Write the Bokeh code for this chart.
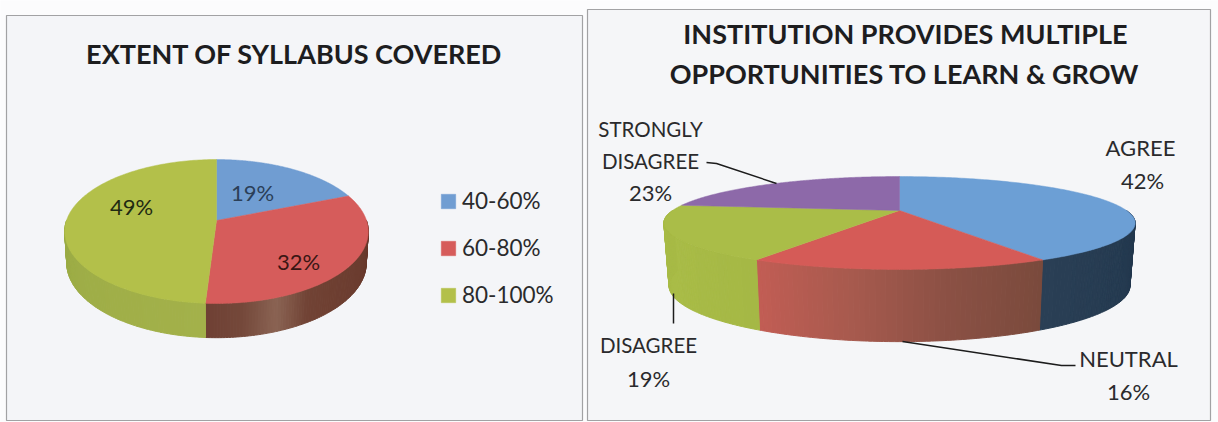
import numpy as np
from bokeh.plotting import figure
from bokeh.models import Range1d, Legend, LegendItem
from bokeh.core.properties import value
from bokeh.embed import file_html
from bokeh.resources import INLINE

# ---------- data ----------
syllabus_title = "EXTENT OF SYLLABUS COVERED"
syllabus_categories = ["40-60%", "60-80%", "80-100%"]
syllabus_values = [19, 32, 49]

growth_title = ["INSTITUTION PROVIDES MULTIPLE", "OPPORTUNITIES TO LEARN & GROW"]
growth_categories = ["AGREE", "NEUTRAL", "DISAGREE", "STRONGLY DISAGREE"]
growth_values = [42, 16, 19, 23]

# ---------- styles ----------
FONT = value("Lato")
INK = "#1d1d1f"
LEFT_TOP = ["#709dd2", "#d65c5b", "#b3c04a"]
RIGHT_TOP = ["#6c9fd5", "#d55b57", "#aabd48", "#8d69a9"]
LEFT_SIDE = [["#4a6d94", "#4a6d94"],
             ["#63352a", "#66372b", "#6a3b2e", "#6c3d30", "#6e3f31", "#714335", "#8a6353", "#74483a", "#6f4034"],
             ["#a3b14a", "#9fae47", "#9aab45"]]
RIGHT_SIDE = [["#21344a", "#243a50", "#2a3f55"],
              ["#7a4a3c", "#8a5044", "#a85a4e", "#c25d54"],
              ["#a5b845", "#a9bc47", "#a7ba46"],
              ["#6b4f82", "#6b4f82"]]


def hexmix(stops, t):
    arr = np.array([[int(c[i:i + 2], 16) for i in (1, 3, 5)] for c in stops], float)
    pos = t * (len(stops) - 1)
    i = min(int(pos), len(stops) - 2)
    rgb = arr[i] + (arr[i + 1] - arr[i]) * (pos - i)
    return "#%02x%02x%02x" % tuple(int(round(v)) for v in rgb)


def rim(theta, cx, y0, a, b, k):
    u, v = np.sin(theta), np.cos(theta)
    w = 1 + k * v
    return cx + b * u / w, y0 - a * v / w


def draw_pie(p, vals, tops, sides, cx, y0, a, b, k, y1, a1, b1):
    edges = np.radians(np.cumsum([0] + list(vals)) * 360.0 / sum(vals))
    front = (np.pi / 2, 3 * np.pi / 2)
    for i, (t0, t1) in enumerate(zip(edges[:-1], edges[1:])):
        s0, s1 = max(t0, front[0]), min(t1, front[1])
        if s1 <= s0:
            continue
        n = max(2, int(np.degrees(s1 - s0)))
        grid = np.linspace(s0, s1, n + 1)
        for j in range(n):
            th = np.linspace(grid[j], grid[j + 1], 3)
            xa, ya = rim(th, cx, y0, a, b, k)
            xb, yb = rim(th[::-1], cx, y1, a1, b1, k)
            col = hexmix(sides[i], (j + 0.5) / n)
            p.patch(np.r_[xa, xb], np.r_[ya, yb], fill_color=col, line_color=col, line_width=1)
    rends = []
    for i, (t0, t1) in enumerate(zip(edges[:-1], edges[1:])):
        th = np.linspace(t0, t1, 160)
        xa, ya = rim(th, cx, y0, a, b, k)
        rends.append(p.patch(np.r_[cx, xa], np.r_[y0, ya], fill_color=tops[i], line_color=tops[i], line_width=0.5))
    return rends


p = figure(width=1218, height=422, x_range=Range1d(0, 1218), y_range=Range1d(422, 0),
           output_backend="svg", toolbar_location=None, min_border=0,
           background_fill_color="#fcfcfd", border_fill_color="#fcfcfd", outline_line_color=None)
p.axis.visible = False
p.grid.visible = False

# panels
p.quad(left=[6, 587], right=[582, 1210], top=[15, 9], bottom=[420, 420],
       fill_color=["#f4f5f8", "#f5f6f8"], line_color="#a2a2a4", line_width=1.2)

left_r = draw_pie(p, syllabus_values, LEFT_TOP, LEFT_SIDE, 216, 220, 70.3, 150, 0.153, 251, 73, 148)
draw_pie(p, growth_values, RIGHT_TOP, RIGHT_SIDE, 899, 210, 43.1, 227, 0.269, 270, 52, 222)

# leader lines
leader_x = [[706, 716, 776], [673, 673], [902, 1061, 1075]]
leader_y = [[162, 163, 183], [293, 323], [341, 365, 365]]
p.multi_line(leader_x, leader_y, line_color="#1c1c1c", line_width=1.5)

# titles
p.text([294, 905, 904], [53, 33, 73], text=[syllabus_title] + growth_title, text_font=FONT,
       text_font_style="bold", text_font_size="27px", text_color=INK,
       text_align="center", text_baseline="middle")

# labels
word_x = [650, 650, 648]
word_y = [128, 160, 344]
word_t = ["STRONGLY", "DISAGREE", growth_categories[2]]
p.text(word_x, word_y, text=word_t, text_font=FONT, text_font_size="20.5px", text_color="#2a2a2c",
       text_align="center", text_baseline="middle")
wide_x = [1140, 1128]
wide_y = [147, 358]
wide_t = [growth_categories[0], growth_categories[1]]
p.text(wide_x, wide_y, text=wide_t, text_font=FONT, text_font_size="22px", text_color="#2a2a2c",
       text_align="center", text_baseline="middle")

pct_x = [252, 131, 298, 650, 1142, 648, 1128]
pct_y = [192, 206, 261, 192, 180, 378, 391]
pct_t = [f"{syllabus_values[0]}%", f"{syllabus_values[2]}%", f"{syllabus_values[1]}%",
         f"{growth_values[3]}%", f"{growth_values[0]}%", f"{growth_values[2]}%", f"{growth_values[1]}%"]
pct_c = ["#2b3f58", "#1f2a12", "#3a1614"] + ["#2a2a2c"] * 4
p.text(pct_x, pct_y, text=pct_t, text_font=FONT, text_font_size="22px", text_color=pct_c,
       text_align="center", text_baseline="middle")

legend = Legend(items=[LegendItem(label=c, renderers=[r]) for c, r in zip(syllabus_categories, left_r)],
                location=(439, 114), orientation="vertical", background_fill_alpha=0,
                border_line_color=None, glyph_width=18, glyph_height=18, label_standoff=5,
                spacing=20, padding=2, margin=0, label_text_font="Lato", label_text_font_size="22.5px",
                label_text_color="#2a2a2c", label_height=25)
p.add_layout(legend, "center")

open("out.html", "w").write(file_html(p, INLINE))
